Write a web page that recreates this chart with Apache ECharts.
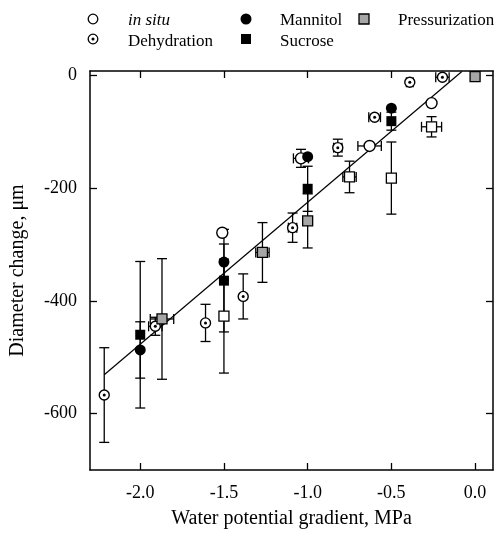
<!DOCTYPE html>
<html><head><meta charset="utf-8">
<script src="https://cdn.jsdelivr.net/npm/echarts@6/dist/echarts.min.js"></script>
<style>html,body{margin:0;padding:0;background:#fff}#c{width:501px;height:533px}</style>
</head><body><div id="c"></div>
<script>
// tick labels
const xTicks = [-2.0, -1.5, -1.0, -0.5, 0.0];
const yTicks = [0, -200, -400, -600];
// rows: [x (MPa), y (µm), x error, y error]
const inSitu = [[-0.26,-49,0,0],[-0.63,-125,0.07,0],[-1.04,-147,0.045,16],[-1.51,-279,0,0]];
const dehydration = [[-0.195,-3,0.04,0],[-0.39,-12,0.02,0],[-0.60,-74,0.035,0],[-0.82,-128,0.025,15],[-1.09,-270,0.025,26],[-1.385,-392,0,40],[-1.61,-439,0,33],[-1.91,-445,0.04,16],[-2.215,-567,0,84]];
const mannitol = [[-0.50,-58,0,0],[-1.00,-144,0,0],[-1.50,-331,0,32],[-2.00,-487,0,50]];
const sucrose = [[-0.50,-81,0,16],[-1.00,-201,0,40],[-1.50,-364,0,91],[-2.00,-460,0,130]];
const openSquare = [[-0.26,-91,0.06,18],[-0.50,-182,0,64],[-0.75,-180,0.04,28],[-1.50,-427,0,101]];
const pressurization = [[0.0,-2,0,0],[-1.00,-258,0,48],[-1.27,-314,0.04,53],[-1.87,-432,0.07,107]];
const fitLine = [[-2.215,-531],[-0.079,7]];

const FONT = "'Liberation Serif','Times New Roman',serif";
const chart = echarts.init(document.getElementById('c'), null, {renderer:'canvas'});

function errRender(params, api){
  const x = api.value(0), y = api.value(1), xe = api.value(2), ye = api.value(3);
  const st = {stroke:'#000', lineWidth:1.3};
  const cap = 5;
  const ch = [];
  if (ye > 0) {
    const t = api.coord([x, y + ye]), b = api.coord([x, y - ye]);
    ch.push({type:'line', shape:{x1:t[0],y1:t[1],x2:b[0],y2:b[1]}, style:st});
    ch.push({type:'line', shape:{x1:t[0]-cap,y1:t[1],x2:t[0]+cap,y2:t[1]}, style:st});
    ch.push({type:'line', shape:{x1:b[0]-cap,y1:b[1],x2:b[0]+cap,y2:b[1]}, style:st});
  }
  if (xe > 0) {
    const l = api.coord([x - xe, y]), r = api.coord([x + xe, y]);
    ch.push({type:'line', shape:{x1:l[0],y1:l[1],x2:r[0],y2:r[1]}, style:st});
    ch.push({type:'line', shape:{x1:l[0],y1:l[1]-cap,x2:l[0],y2:l[1]+cap}, style:st});
    ch.push({type:'line', shape:{x1:r[0],y1:r[1]-cap,x2:r[0],y2:r[1]+cap}, style:st});
  }
  return {type:'group', children:ch};
}
function errSeries(name, rows){
  return {type:'custom', name:name+' error', data:rows, encode:{x:0,y:1}, renderItem:errRender, z:2, silent:true};
}
function pts(rows){ return rows.map(r => [r[0], r[1]]); }

const axisLine = {show:true, onZero:false, lineStyle:{color:'#000', width:1.5}};
function tick(vals){ return {show:true, inside:true, length:7, customValues:vals, lineStyle:{color:'#000', width:1.3}}; }

const groups = [
  ['in situ', inSitu], ['Dehydration', dehydration], ['Mannitol', mannitol],
  ['Sucrose', sucrose], ['Other', openSquare], ['Pressurization', pressurization]
];
const series = groups.map(g => errSeries(g[0], g[1]));
series.push({type:'line', name:'fit', data:fitLine, showSymbol:false, symbol:'none', lineStyle:{color:'#000', width:1.2}, z:3, silent:true});
series.push({type:'scatter', name:'in situ', data:pts(inSitu), symbol:'circle', symbolSize:11, itemStyle:{color:'#fff', borderColor:'#000', borderWidth:1.4, opacity:1}, z:5});
series.push({type:'scatter', name:'Dehydration', data:pts(dehydration), symbol:'circle', symbolSize:10, itemStyle:{color:'#fff', borderColor:'#000', borderWidth:1.4, opacity:1}, z:5});
series.push({type:'scatter', name:'Dehydration dot', data:pts(dehydration), symbol:'circle', symbolSize:3, itemStyle:{color:'#000', opacity:1}, z:6});
series.push({type:'scatter', name:'Mannitol', data:pts(mannitol), symbol:'circle', symbolSize:11, itemStyle:{color:'#000', opacity:1}, z:5});
series.push({type:'scatter', name:'Sucrose', data:pts(sucrose), symbol:'rect', symbolSize:10, itemStyle:{color:'#000', opacity:1}, z:5});
series.push({type:'scatter', name:'Other', data:pts(openSquare), symbol:'rect', symbolSize:10, itemStyle:{color:'#fff', borderColor:'#000', borderWidth:1.3, opacity:1}, z:5});
series.push({type:'scatter', name:'Pressurization', data:pts(pressurization), symbol:'rect', symbolSize:10, itemStyle:{color:'#a6a6a6', borderColor:'#000', borderWidth:1.3, opacity:1}, z:5});

const lt = {fill:'#000', font:'17px ' + FONT, verticalAlign:'middle'};
const graphic = [
  {type:'circle', shape:{cx:93, cy:19, r:4.8}, style:{fill:'#fff', stroke:'#000', lineWidth:1.3}},
  {type:'text', x:128, y:21, style:Object.assign({}, lt, {text:'in situ', font:'italic 17px ' + FONT})},
  {type:'circle', shape:{cx:93, cy:39, r:4.8}, style:{fill:'#fff', stroke:'#000', lineWidth:1.3}},
  {type:'circle', shape:{cx:93, cy:39, r:1.5}, style:{fill:'#000'}},
  {type:'text', x:128, y:41.5, style:Object.assign({}, lt, {text:'Dehydration'})},
  {type:'circle', shape:{cx:246, cy:19, r:5.5}, style:{fill:'#000'}},
  {type:'text', x:280, y:21, style:Object.assign({}, lt, {text:'Mannitol'})},
  {type:'rect', shape:{x:241, y:34, width:10, height:10}, style:{fill:'#000'}},
  {type:'text', x:280, y:41.5, style:Object.assign({}, lt, {text:'Sucrose'})},
  {type:'rect', shape:{x:359, y:14, width:10, height:10}, style:{fill:'#a6a6a6', stroke:'#000', lineWidth:1.3}},
  {type:'text', x:398, y:21, style:Object.assign({}, lt, {text:'Pressurization'})}
];

chart.setOption({
  animation:false,
  backgroundColor:'#fff',
  grid:{left:90, right:8, top:71, bottom:63, containLabel:false, outerBoundsMode:'none'},
  xAxis:[
    {type:'value', position:'bottom', min:-2.3, max:0.107, axisLine:axisLine, axisTick:tick(xTicks), splitLine:{show:false},
     axisLabel:{show:true, customValues:xTicks, formatter:v => Number(v).toFixed(1), margin:14, color:'#000', fontSize:18, fontFamily:FONT},
     name:'Water potential gradient, MPa', nameLocation:'middle', nameGap:39, nameTextStyle:{color:'#000', fontSize:20, fontFamily:FONT}},
    {type:'value', position:'top', min:-2.3, max:0.107, axisLine:axisLine, axisTick:tick(xTicks), splitLine:{show:false}, axisLabel:{show:false}}
  ],
  yAxis:[
    {type:'value', position:'left', min:-700, max:8, axisLine:axisLine, axisTick:tick(yTicks), splitLine:{show:false},
     axisLabel:{show:true, customValues:yTicks, formatter:v => String(v), margin:13, color:'#000', fontSize:18, fontFamily:FONT},
     name:'Diameter change, \u03bcm', nameLocation:'middle', nameGap:62, nameRotate:90, nameTextStyle:{color:'#000', fontSize:20, fontFamily:FONT}},
    {type:'value', position:'right', min:-700, max:8, axisLine:axisLine, axisTick:tick(yTicks), splitLine:{show:false}, axisLabel:{show:false}}
  ],
  graphic:graphic,
  series:series
});
</script></body></html>
